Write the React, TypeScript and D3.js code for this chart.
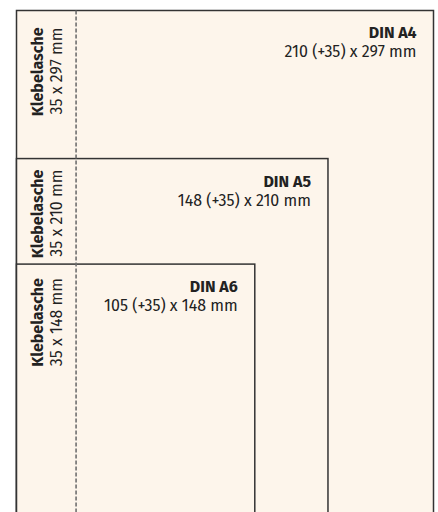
import * as d3 from "d3";

// formats, drawn largest first
const formats = ["DIN A4", "DIN A5", "DIN A6"];
const widths = [210, 148, 105]; // mm, without flap
const heights = [297, 210, 148]; // mm
const FLAP = 35; // mm
const flapLabel = "Klebelasche";

const W = 438;
const H = 512;
const LEFT = 16.5;
const RIGHT = 433.5;
const BOTTOM = 516;
const PAD_RIGHT = 17;
const LABEL_OFFSETS = [17, 11, 14]; // flap label distance from box top

const FONT = "'Fira Sans', 'Open Sans', sans-serif";
const FONT_SIZE = 16;
const FILL = "#fdf5eb";
const STROKE = "#333";

const App = () => {
  const x = d3
    .scaleLinear()
    .domain([0, widths[0] + FLAP])
    .range([LEFT, RIGHT]);
  const pxPerMm = (RIGHT - LEFT) / (widths[0] + FLAP);
  const y = d3
    .scaleLinear()
    .domain([0, heights[0]])
    .range([BOTTOM, BOTTOM - heights[0] * pxPerMm]);

  const boxes = formats.map((name, i) => {
    const top = y(heights[i]);
    const right = x(widths[i] + FLAP);
    return (
      <g key={name}>
        <rect
          x={x(0)}
          y={top}
          width={right - x(0)}
          height={BOTTOM - top}
          fill={FILL}
          stroke={STROKE}
          strokeWidth={1.5}
        />
        <text
          x={right - PAD_RIGHT}
          y={top + 28}
          textAnchor="end"
          fontFamily={FONT}
          fontSize={FONT_SIZE}
          fontWeight={700}
          fill="#222"
        >
          {name}
        </text>
        <text
          x={right - PAD_RIGHT}
          y={top + 47}
          textAnchor="end"
          fontFamily={FONT}
          fontSize={FONT_SIZE}
          fill="#222"
        >
          {`${widths[i]} (+${FLAP}) x ${heights[i]} mm`}
        </text>
        <g transform={`translate(0, ${top + LABEL_OFFSETS[i]}) rotate(-90)`}>
          <text
            x={0}
            y={43}
            textAnchor="end"
            fontFamily={FONT}
            fontSize={FONT_SIZE}
            fontWeight={700}
            fill="#222"
          >
            {flapLabel}
          </text>
          <text
            x={0}
            y={62}
            textAnchor="end"
            fontFamily={FONT}
            fontSize={FONT_SIZE}
            fill="#222"
          >
            {`${FLAP} x ${heights[i]} mm`}
          </text>
        </g>
      </g>
    );
  });

  return (
    <svg
      width={W}
      height={H}
      style={{ position: "absolute", left: 0, top: 0, display: "block" }}
    >
      <rect width={W} height={H} fill="#fff" />
      {boxes}
      <line
        x1={x(FLAP)}
        x2={x(FLAP)}
        y1={y(heights[0])}
        y2={BOTTOM}
        stroke="#6f6f6f"
        strokeWidth={1.6}
        strokeDasharray="4 2"
      />
    </svg>
  );
};

export default App;
